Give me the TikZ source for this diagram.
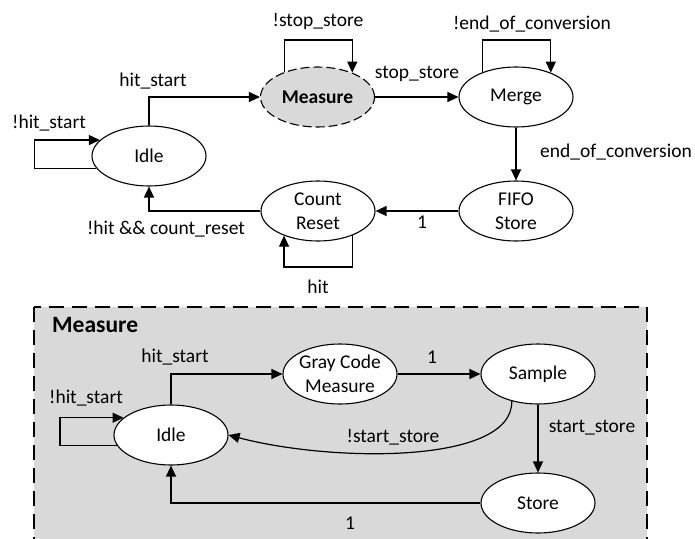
\documentclass[tikz,border=0pt]{standalone}
\usepackage{fontspec}
\setmainfont{Carlito}
\usetikzlibrary{shapes.geometric,arrows.meta}
\definecolor{panelgray}{HTML}{D9D9D9}
\tikzset{
  every picture/.style={x=1pt,y=-1pt},
  arr/.style={line width=1.2pt,-{Triangle[length=11pt,width=10pt]}},
  link/.style={line width=1.2pt},
  state/.style={ellipse,draw,line width=1.1pt,fill=white,minimum width=114pt,minimum height=60pt,inner sep=0pt},
  txt/.style={font=\fontsize{19.5}{24}\selectfont,align=center,inner sep=0pt},
  lbl/.style={font=\fontsize{19.5}{24}\selectfont,inner sep=0pt}
}
\begin{document}
\begin{tikzpicture}
\useasboundingbox (0,0) rectangle (695,538);

% ---- sub-state panel ----
\begin{scope}
\clip (0,0) rectangle (695,538);
\draw[fill=panelgray,line width=1.1pt,dash pattern=on 15pt off 8pt] (34,307) rectangle (647,560);
\end{scope}
\node[anchor=base west,inner sep=0pt,font=\fontsize{23.5}{28}\selectfont\bfseries] (ttl) at (52,332) {Measure};

% ---- top-level states ----
\node[state,label={[txt]center:Idle}] (idle) at (149,156) {};
\node[state,fill=panelgray,dash pattern=on 9pt off 4pt,label={[txt,font=\fontsize{19.5}{24}\selectfont\bfseries]center:Measure}] (meas) at (317.5,97) {};
\node[state,label={[txt]center:Merge}] (merge) at (516,97) {};
\node[state,label={[txt]center:FIFO\\Store}] (fifo) at (516,211) {};
\node[state,label={[txt]center:Count\\Reset}] (count) at (318,211) {};

% ---- top-level transitions ----
\draw[arr] (idle.193) -- ++(-62,0) |- (idle.162);
\node[lbl] (l1) at (49,123) {!hit\_start};
\draw[arr] (idle.north) |- (meas.west);
\node[lbl] (l2) at (153,81) {hit\_start};
\draw[arr] (meas.143) -- ++(0,-32) -| (meas.35);
\node[lbl] (l3) at (318,21) {!stop\_store};
\draw[arr] (meas.east) -- (merge.west);
\node[lbl] (l4) at (417,74) {stop\_store};
\draw[arr] (merge.143) -- ++(0,-32) -| (merge.35);
\node[lbl] (l5) at (532,24) {!end\_of\_conversion};
\draw[arr] (merge.south) -- (fifo.north);
\node[lbl] (l6) at (616,152) {end\_of\_conversion};
\draw[arr] (fifo.west) -- (count.east);
\node[lbl] (l7) at (422,222) {1};
\draw[arr] (count.west) -| (idle.south);
\node[lbl] (l8) at (166,229) {!hit \&\& count\_reset};
\draw[arr] (count.-35) -- (count.-35 |- 0,267) -| (count.-144);
\node[lbl] (l9) at (318,287) {hit};

% ---- sub-states ----
\node[state,label={[txt]center:Idle}] (sidle) at (171,435) {};
\node[state,label={[txt]center:Gray Code\\Measure}] (gray) at (340,374) {};
\node[state,label={[txt]center:Sample}] (sample) at (538,374) {};
\node[state,label={[txt]center:Store}] (store) at (538,503) {};

% ---- sub-state transitions ----
\draw[arr] (sidle.191) -- ++(-57,0) |- (sidle.160);
\node[lbl] (m1) at (86,398) {!hit\_start};
\draw[arr] (sidle.north) |- (gray.west);
\node[lbl] (m2) at (175,357) {hit\_start};
\draw[arr] (gray.east) -- (sample.west);
\node[lbl] (m3) at (432,357) {1};
\draw[arr] (sample.south) -- (store.north);
\node[lbl] (m4) at (592,428) {start\_store};
\draw[arr] (store.west) -| (sidle.south);
\node[lbl] (m5) at (350,523) {1};
\draw[arr] (sample.226) .. controls (513,465) and (330,462) .. (sidle.east);
\node[lbl] (m6) at (393,437) {!start\_store};
\end{tikzpicture}
\end{document}
